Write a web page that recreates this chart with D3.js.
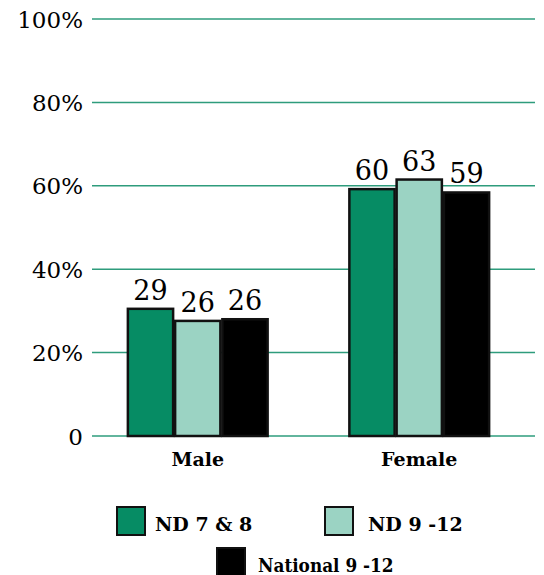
<!DOCTYPE html>
<html><head><meta charset="utf-8">
<script src="https://cdn.jsdelivr.net/npm/d3@7/dist/d3.min.js"></script>
<style>body{margin:0;background:#fff}</style>
</head><body>
<script>
const categories = ["Male", "Female"];
const seriesNames = ["ND 7 & 8", "ND 9 -12", "National 9 -12"];
const barHeights = [[30.5, 27.6, 28.0], [59.2, 61.5, 58.4]];
const barLabels = [["29", "26", "26"], ["60", "63", "59"]];
const colors = ["#068c64", "#9bd3c3", "#000000"];
const yTicks = [0, 20, 40, 60, 80, 100];
const yTickLabels = ["0", "20%", "40%", "60%", "80%", "100%"];

const W = 544, H = 575;
const svg = d3.select("body").append("svg").attr("width", W).attr("height", H);
const y = d3.scaleLinear().domain([0, 100]).range([436, 19]);
const x0 = d3.scaleBand().domain(categories).range([87, 530]).paddingInner(0.36).paddingOuter(0.18);
const x1 = d3.scaleBand().domain(seriesNames).range([0, x0.bandwidth()]);

const serif = "'DejaVu Serif', 'Liberation Serif', serif";

// gridlines
svg.append("g").selectAll("line").data(yTicks).join("line")
  .attr("x1", 92).attr("x2", 535)
  .attr("y1", d => y(d)).attr("y2", d => y(d))
  .attr("stroke", "#2e9c7c").attr("stroke-width", 1.5);

svg.append("g").selectAll("text").data(yTicks).join("text")
  .attr("x", 83).attr("y", d => y(d) + 8.5)
  .attr("text-anchor", "end")
  .attr("font-family", serif).attr("font-size", 23)
  .attr("fill", "#000")
  .text((d, i) => yTickLabels[i]);

// bars
const groups = svg.append("g").selectAll("g").data(categories).join("g")
  .attr("transform", d => `translate(${x0(d)},0)`);
groups.each(function(cat, ci) {
  const g = d3.select(this);
  seriesNames.forEach((s, si) => {
    const v = barHeights[ci][si];
    g.append("rect")
      .attr("x", x1(s) + 1).attr("width", x1.bandwidth() - 2)
      .attr("y", y(v)).attr("height", y(0) - y(v))
      .attr("fill", colors[si]).attr("stroke", "#111").attr("stroke-width", 2.5);
    g.append("text")
      .attr("x", x1(s) + x1.bandwidth() / 2).attr("y", y(v) - 9)
      .attr("text-anchor", "middle")
      .attr("font-family", serif).attr("font-size", 27)
      .text(barLabels[ci][si]);
  });
});

// category labels
svg.append("g").selectAll("text").data(categories).join("text")
  .attr("x", d => x0(d) + x0.bandwidth() / 2).attr("y", 466)
  .attr("text-anchor", "middle")
  .attr("font-family", serif).attr("font-weight", "bold").attr("font-size", 19)
  .text(d => d);

// legend
const legendPos = [[117, 507, 155, 1], [325, 507, 368, 1], [217, 548, 258, 0.89]];
const lg = svg.append("g");
seriesNames.forEach((s, i) => {
  const [sx, sy, tx, sc] = legendPos[i];
  lg.append("rect").attr("x", sx).attr("y", sy).attr("width", 28).attr("height", 28)
    .attr("fill", colors[i]).attr("stroke", "#111").attr("stroke-width", 2);
  lg.append("text")
    .attr("transform", `translate(${tx},${sy + 24}) scale(${sc},1)`)
    .attr("font-family", serif).attr("font-weight", "bold").attr("font-size", 19)
    .text(s);
});
</script>
</body></html>
